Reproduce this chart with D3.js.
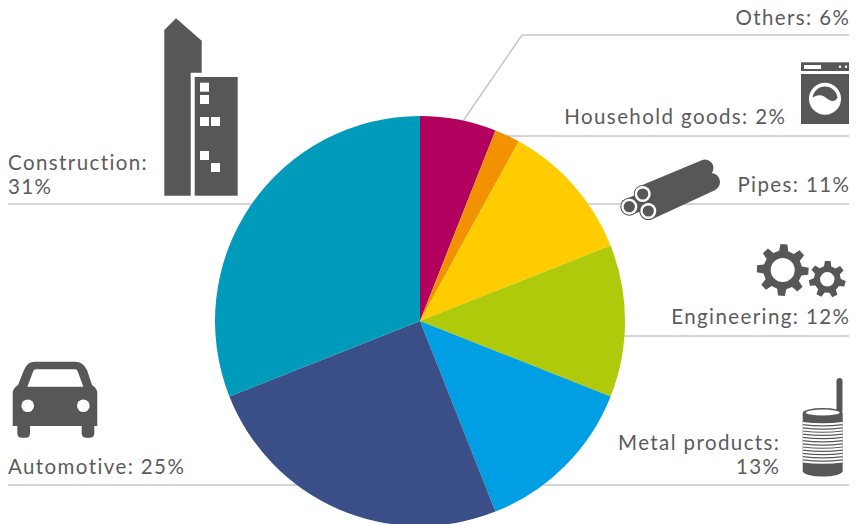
<!DOCTYPE html>
<html>
<head>
<meta charset="utf-8">
<script src="https://cdn.jsdelivr.net/npm/d3@7/dist/d3.min.js"></script>
<style>
  html, body { margin: 0; padding: 0; background: #fff; }
  svg { display: block; }
  text { font-family: Lato, sans-serif; font-size: 20.5px; letter-spacing: 1.4px; fill: #5c5c5c; }
</style>
</head>
<body>
<svg id="chart" width="857" height="524"></svg>
<script>
// Steel end-use shares, clockwise from twelve o'clock.
const sectors = ["Others", "Household goods", "Pipes", "Engineering", "Metal products", "Automotive", "Construction"];
const shares = [6, 2, 11, 12, 13, 25, 31];
const sliceColors = ["#b2005f", "#f39200", "#ffcc00", "#afca0b", "#009ee3", "#3a4f87", "#009bbb"];

const INK = "#575756";
const RULE = "#c6c6c6";
const svg = d3.select("#chart");

// Leader rules sit under the pie so they end at its edge.
const rules = [
  [[8, 204], [300, 204]],
  [[8, 485], [330, 485]],
  [[463, 121], [522, 35], [849, 35]],
  [[490, 136], [849, 136]],
  [[560, 204], [849, 204]],
  [[600, 336], [849, 336]],
  [[520, 485], [849, 485]]
];
svg.append("g").selectAll("path").data(rules).join("path")
  .attr("d", d3.line())
  .attr("fill", "none")
  .attr("stroke", RULE)
  .attr("stroke-width", 1.5);

// Pie
const cx = 420, cy = 321, radius = 205;
const pie = d3.pie().sort(null).value(d => d);
const arc = d3.arc().innerRadius(0).outerRadius(radius);
svg.append("g").attr("transform", `translate(${cx},${cy})`)
  .selectAll("path").data(pie(shares)).join("path")
  .attr("d", arc)
  .attr("fill", (d, i) => sliceColors[i]);

// Labels: each entry is the sector index plus its text lines.
const labels = [
  { i: 0, x: 850.4, y: 25, anchor: "end" },
  { i: 1, x: 786.4, y: 124, anchor: "end" },
  { i: 2, x: 850.4, y: 192, anchor: "end" },
  { i: 3, x: 850.4, y: 324, anchor: "end" },
  { i: 4, x: 780.4, y: 450, anchor: "end", split: true },
  { i: 5, x: 8, y: 474, anchor: "start" },
  { i: 6, x: 8, y: 170, anchor: "start", split: true }
];
const labelGroup = svg.append("g");
labels.forEach(l => {
  const head = `${sectors[l.i]}:`, tail = `${shares[l.i]}%`;
  const lines = l.split ? [head, tail] : [`${head} ${tail}`];
  lines.forEach((t, k) => {
    labelGroup.append("text")
      .attr("x", l.x).attr("y", l.y + k * 24)
      .attr("text-anchor", l.anchor)
      .text(t);
  });
});

// Icons
const icons = svg.append("g");

// Buildings
const city = icons.append("g").attr("fill", INK);
city.append("path").attr("d", "M164.3 30L176 18.3L201.7 40.7V72.7H190.7V195.7H164.3Z");
city.append("rect").attr("x", 194.7).attr("y", 77).attr("width", 43).attr("height", 118.7);
city.selectAll("rect.win")
  .data([[200, 82.7], [200, 95], [200, 117], [211, 117], [200, 151], [211, 163]])
  .join("rect").attr("class", "win")
  .attr("x", d => d[0]).attr("y", d => d[1])
  .attr("width", 9).attr("height", 9).attr("fill", "#fff");

// Washing machine
const washer = icons.append("g");
washer.append("rect").attr("x", 801).attr("y", 62.3).attr("width", 48).attr("height", 8.7).attr("fill", INK);
washer.append("rect").attr("x", 804).attr("y", 65).attr("width", 17).attr("height", 4).attr("fill", "#fff");
washer.selectAll("circle.knob").data([840, 846]).join("circle").attr("class", "knob")
  .attr("cx", d => d).attr("cy", 66.8).attr("r", 1.2).attr("fill", "#fff");
washer.append("rect").attr("x", 801).attr("y", 74).attr("width", 48).attr("height", 50).attr("fill", INK);
washer.append("circle").attr("cx", 825).attr("cy", 98.7).attr("r", 16).attr("fill", "#fff");
washer.append("path").attr("fill", INK)
  .attr("d", "M812.5 97.5A12.6 12.6 0 0 1 837.5 97.5C834 104 829 100 825 97C821 94 816 95 812.5 97.5Z");

// Pipes
const pipes = icons.append("g");
[
  [[642.7, 194], [705, 168], 17],
  [[629.3, 206.7], [690, 182], 17],
  [[648.3, 211], [711, 182], 18]
].forEach(([a, b, w]) => {
  pipes.append("line")
    .attr("x1", a[0]).attr("y1", a[1]).attr("x2", b[0]).attr("y2", b[1])
    .attr("stroke", INK).attr("stroke-width", w).attr("stroke-linecap", "round");
});
[[642.7, 194], [629.3, 206.7], [648.3, 211]].forEach(([x, y]) => {
  pipes.append("circle").attr("cx", x).attr("cy", y).attr("r", 9).attr("fill", INK);
  pipes.append("circle").attr("cx", x).attr("cy", y).attr("r", 8).attr("fill", "#fff");
  pipes.append("circle").attr("cx", x).attr("cy", y).attr("r", 5.6).attr("fill", INK);
});

// Gears: a toothed outline with an even-odd hole.
function gearPath(teeth, outer, root, hole, phase) {
  const p = d3.path();
  const step = 2 * Math.PI / teeth;
  const pt = (r, a) => [r * Math.cos(a), r * Math.sin(a)];
  for (let t = 0; t < teeth; t++) {
    const a = phase + t * step;
    const corners = [
      pt(root, a - step * 0.30), pt(outer, a - step * 0.17),
      pt(outer, a + step * 0.17), pt(root, a + step * 0.30)
    ];
    corners.forEach((c, k) => (t === 0 && k === 0) ? p.moveTo(c[0], c[1]) : p.lineTo(c[0], c[1]));
  }
  p.closePath();
  p.moveTo(hole, 0);
  p.arc(0, 0, hole, 0, 2 * Math.PI);
  return p.toString();
}
[
  { x: 782.7, y: 270, teeth: 8, outer: 26, root: 19.5, hole: 12, phase: 0.05 },
  { x: 827.3, y: 279.3, teeth: 7, outer: 18.5, root: 13.5, hole: 7.2, phase: 0.25 }
].forEach(g => {
  icons.append("path")
    .attr("transform", `translate(${g.x},${g.y})`)
    .attr("d", gearPath(g.teeth, g.outer, g.root, g.hole, g.phase))
    .attr("fill", INK).attr("fill-rule", "evenodd");
});

// Tin can
const can = icons.append("g");
can.append("line").attr("x1", 839.5).attr("y1", 381).attr("x2", 839.5).attr("y2", 410)
  .attr("stroke", INK).attr("stroke-width", 6).attr("stroke-linecap", "round");
can.append("path").attr("fill", INK)
  .attr("d", "M802.7 413A20 5 0 0 1 842.7 413V471A20 5.5 0 0 1 802.7 471Z");
can.append("ellipse").attr("cx", 822.7).attr("cy", 412.5).attr("rx", 17).attr("ry", 3).attr("fill", "#fff");
d3.range(13).forEach(k => {
  can.append("path")
    .attr("d", `M802.7 ${423 + k * 3.2}Q822.7 ${425.5 + k * 3.2} 842.7 ${423 + k * 3.2}`)
    .attr("fill", "none").attr("stroke", "#fff").attr("stroke-width", 2);
});

// Car
const car = icons.append("g");
car.append("path").attr("fill", INK)
  .attr("d", "M12.7 393Q13 388 18 385L24 370Q27 361.7 35 361.7H75Q83 361.7 87 370L92 385Q97 388 97.3 393V426H94.3V433Q94.3 437.7 90 437.7H86Q81.7 437.7 81.7 433V426H30V433Q30 437.7 26 437.7H21.5Q17.3 437.7 17.3 433V426H12.7Z");
car.append("path").attr("fill", "#fff")
  .attr("d", "M33.3 371Q33.8 369.3 36 369.3H75Q77 369.3 77.6 371L83.3 386.7H27.3Z");
car.selectAll("circle").data([27.7, 83.3]).join("circle")
  .attr("cx", d => d).attr("cy", 405.7).attr("r", 6.3).attr("fill", "#fff");
</script>
</body>
</html>
